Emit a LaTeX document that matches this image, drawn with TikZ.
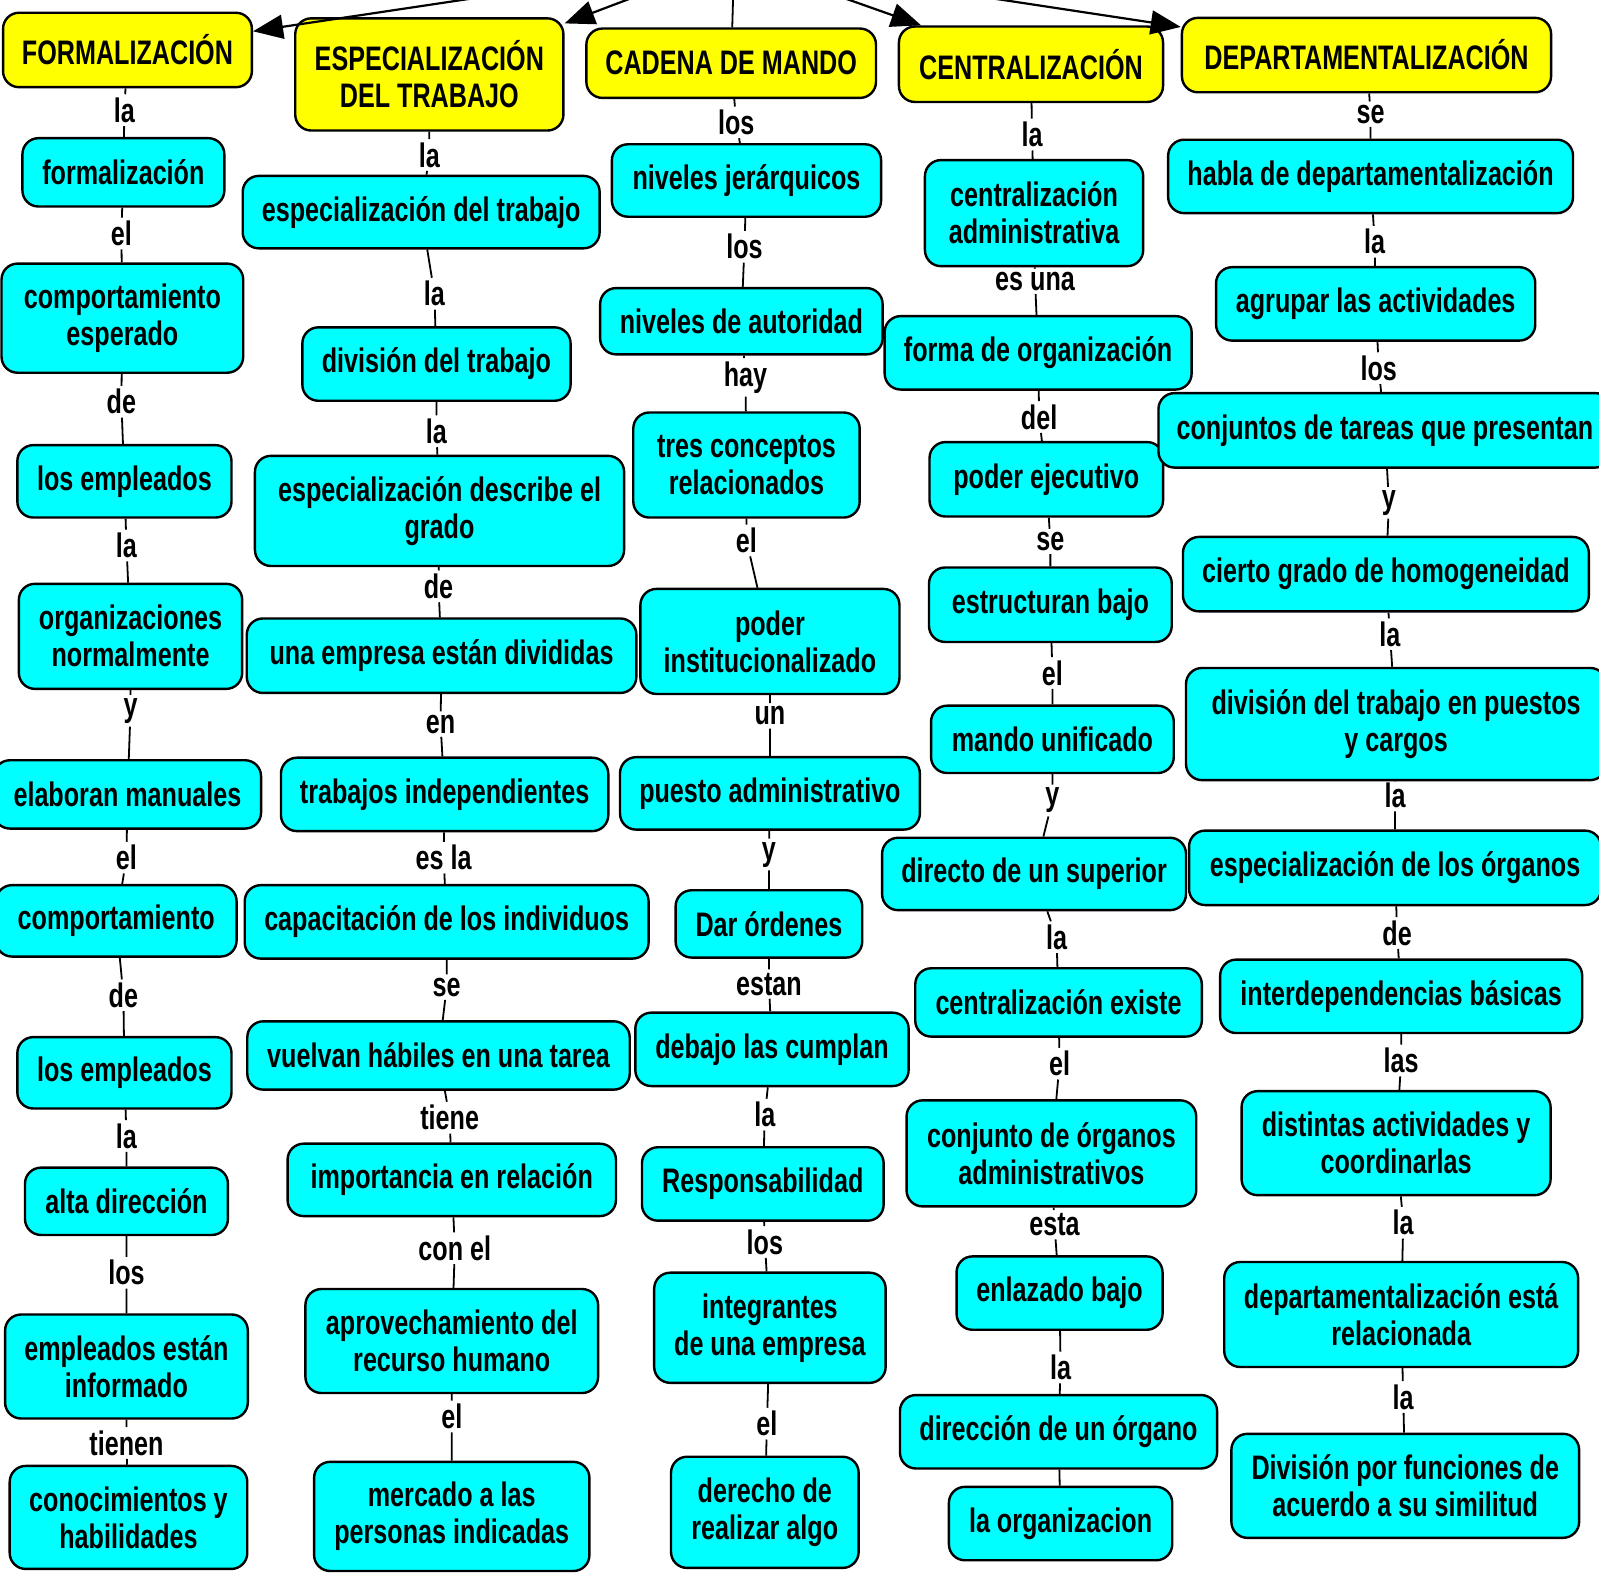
\documentclass[tikz,border=0pt]{standalone}
\usepackage{fontspec}
\setmainfont{Liberation Sans}[FakeStretch=0.74]
\usetikzlibrary{arrows.meta}
\definecolor{mapcyan}{RGB}{0,255,255}
\definecolor{mapyellow}{RGB}{255,255,0}
\tikzset{boxsize/.style 2 args={minimum width=#1*0.51pt, minimum height=#2*0.51pt}}

\begin{document}
\begin{tikzpicture}[
    x=0.51pt, y=-0.51pt,
    every node/.style={font=\fontsize{17}{18.5}\selectfont\bfseries},
    concept/.style={draw, line width=1.2pt, rounded corners=8pt, fill=mapcyan, align=center, inner sep=2pt},
    topic/.style={concept, fill=mapyellow},
    linkword/.style={inner sep=1.5pt},
    link/.style={line width=0.9pt},
    headlink/.style={link, line width=1.1pt, -{Triangle[length=15pt, width=12pt]}}
]
\useasboundingbox (0,0) rectangle (1568,1543);

\coordinate (root) at (720,-40);

% FORMALIZACION
\node[topic, boxsize={244}{73}] (form) at (125,49) {FORMALIZACIÓN};
\node[concept, boxsize={198}{67}] (form1) at (121,169) {formalización};
\node[concept, boxsize={237}{107}] (form2) at (120,312) {comportamiento\\esperado};
\node[concept, boxsize={210}{71}] (form3) at (122,472) {los empleados};
\node[concept, boxsize={219}{103}] (form4) at (128,624) {organizaciones\\normalmente};
\node[concept, boxsize={262}{67}] (form5) at (125,779) {elaboran manuales};
\node[concept, boxsize={236}{70}] (form6) at (114,903) {comportamiento};
\node[concept, boxsize={210}{70}] (form7) at (122,1052) {los empleados};
\node[concept, boxsize={199}{66}] (form8) at (124,1178) {alta dirección};
\node[concept, boxsize={238}{102}] (form9) at (124,1340) {empleados están\\informado};
\node[concept, boxsize={233}{101}] (form10) at (126,1488) {conocimientos y\\habilidades};
\node[linkword] (form-l1) at (122,108) {la};
\node[linkword] (form-l2) at (119,229) {el};
\node[linkword] (form-l3) at (119,394) {de};
\node[linkword] (form-l4) at (124,535) {la};
\node[linkword] (form-l5) at (128,697) {y};
\node[linkword] (form-l6) at (124,841) {el};
\node[linkword] (form-l7) at (121,976) {de};
\node[linkword] (form-l8) at (124,1114) {la};
\node[linkword] (form-l9) at (124,1248) {los};
\node[linkword] (form-l10) at (124,1415) {tienen};

% ESPECIALIZACION DEL TRABAJO
\node[topic, boxsize={263}{110}] (espec) at (421,73) {ESPECIALIZACIÓN\\DEL TRABAJO};
\node[concept, boxsize={350}{71}] (espec1) at (413,208) {especialización del trabajo};
\node[concept, boxsize={263}{72}] (espec2) at (428,357) {división del trabajo};
\node[concept, boxsize={362}{108}] (espec3) at (431,501) {especialización describe el\\grado};
\node[concept, boxsize={382}{73}] (espec4) at (433,643) {una empresa están divididas};
\node[concept, boxsize={321}{72}] (espec5) at (436,779) {trabajos independientes};
\node[concept, boxsize={396}{72}] (espec6) at (438,904) {capacitación de los individuos};
\node[concept, boxsize={375}{67}] (espec7) at (430,1035) {vuelvan hábiles en una tarea};
\node[concept, boxsize={322}{71}] (espec8) at (443,1157) {importancia en relación};
\node[concept, boxsize={287}{102}] (espec9) at (443,1315) {aprovechamiento del\\recurso humano};
\node[concept, boxsize={270}{107}] (espec10) at (443,1487) {mercado a las\\personas indicadas};
\node[linkword] (espec-l1) at (421,152) {la};
\node[linkword] (espec-l2) at (426,288) {la};
\node[linkword] (espec-l3) at (428,423) {la};
\node[linkword] (espec-l4) at (430,575) {de};
\node[linkword] (espec-l5) at (432,710) {en};
\node[linkword] (espec-l6) at (435,841) {es la};
\node[linkword] (espec-l7) at (438,968) {se};
\node[linkword] (espec-l8) at (441,1096) {tiene};
\node[linkword] (espec-l9) at (446,1224) {con el};
\node[linkword] (espec-l10) at (443,1389) {el};

% CADENA DE MANDO
\node[topic, boxsize={284}{68}] (cadena) at (717,62) {CADENA DE MANDO};
\node[concept, boxsize={264}{71}] (cadena1) at (732,177) {niveles jerárquicos};
\node[concept, boxsize={277}{65}] (cadena2) at (727,315) {niveles de autoridad};
\node[concept, boxsize={222}{103}] (cadena3) at (732,456) {tres conceptos\\relacionados};
\node[concept, boxsize={254}{103}] (cadena4) at (755,629) {poder\\institucionalizado};
\node[concept, boxsize={294}{71}] (cadena5) at (755,778) {puesto administrativo};
\node[concept, boxsize={183}{66}] (cadena6) at (754,906) {Dar órdenes};
\node[concept, boxsize={268}{72}] (cadena7) at (757,1029) {debajo las cumplan};
\node[concept, boxsize={237}{72}] (cadena8) at (748,1161) {Responsabilidad};
\node[concept, boxsize={227}{108}] (cadena9) at (755,1302) {integrantes\\de una empresa};
\node[concept, boxsize={184}{109}] (cadena10) at (750,1483) {derecho de\\realizar algo};
\node[linkword] (cadena-l1) at (722,120) {los};
\node[linkword] (cadena-l2) at (730,242) {los};
\node[linkword] (cadena-l3) at (731,370) {hay};
\node[linkword] (cadena-l4) at (732,530) {el};
\node[linkword] (cadena-l5) at (755,702) {un};
\node[linkword] (cadena-l6) at (754,838) {y};
\node[linkword] (cadena-l7) at (754,965) {estan};
\node[linkword] (cadena-l8) at (750,1093) {la};
\node[linkword] (cadena-l9) at (750,1218) {los};
\node[linkword] (cadena-l10) at (752,1396) {el};

% CENTRALIZACION
\node[topic, boxsize={259}{74}] (centr) at (1011,63) {CENTRALIZACIÓN};
\node[concept, boxsize={214}{104}] (centr1) at (1014,209) {centralización\\administrativa};
\node[concept, boxsize={301}{72}] (centr2) at (1018,346) {forma de organización};
\node[concept, boxsize={229}{73}] (centr3) at (1026,470) {poder ejecutivo};
\node[concept, boxsize={238}{73}] (centr4) at (1030,593) {estructuran bajo};
\node[concept, boxsize={238}{66}] (centr5) at (1032,725) {mando unificado};
\node[concept, boxsize={298}{71}] (centr6) at (1014,857) {directo de un superior};
\node[concept, boxsize={281}{67}] (centr7) at (1038,983) {centralización existe};
\node[concept, boxsize={284}{104}] (centr8) at (1031,1131) {conjunto de órganos\\administrativos};
\node[concept, boxsize={202}{72}] (centr9) at (1039,1268) {enlazado bajo};
\node[concept, boxsize={311}{72}] (centr10) at (1038,1404) {dirección de un órgano};
\node[concept, boxsize={219}{72}] (centr11) at (1040,1494) {la organizacion};
\node[linkword] (centr-l1) at (1012,132) {la};
\node[linkword] (centr-l2) at (1015,276) {es una};
\node[linkword] (centr-l3) at (1019,409) {del};
\node[linkword] (centr-l4) at (1030,531) {se};
\node[linkword] (centr-l5) at (1032,660) {el};
\node[linkword] (centr-l6) at (1032,785) {y};
\node[linkword] (centr-l7) at (1036,919) {la};
\node[linkword] (centr-l8) at (1039,1043) {el};
\node[linkword] (centr-l9) at (1034,1201) {esta};
\node[linkword] (centr-l10) at (1040,1341) {la};

% DEPARTAMENTALIZACION
\node[topic, boxsize={362}{73}] (depto) at (1340,54) {DEPARTAMENTALIZACIÓN};
\node[concept, boxsize={397}{72}] (depto1) at (1344,173) {habla de departamentalización};
\node[concept, boxsize={313}{72}] (depto2) at (1349,298) {agrupar las actividades};
\node[concept, boxsize={444}{73}] (depto3) at (1358,422) {conjuntos de tareas que presentan};
\node[concept, boxsize={398}{73}] (depto4) at (1359,563) {cierto grado de homogeneidad};
\node[concept, boxsize={412}{110}] (depto5) at (1369,710) {división del trabajo en puestos\\y cargos};
\node[concept, boxsize={404}{73}] (depto6) at (1368,851) {especialización de los órganos};
\node[concept, boxsize={355}{72}] (depto7) at (1374,977) {interdependencias básicas};
\node[concept, boxsize={303}{102}] (depto8) at (1369,1121) {distintas actividades y\\coordinarlas};
\node[concept, boxsize={347}{103}] (depto9) at (1374,1289) {departamentalización está\\relacionada};
\node[concept, boxsize={341}{102}] (depto10) at (1378,1457) {División por funciones de\\acuerdo a su similitud};
\node[linkword] (depto-l1) at (1344,112) {se};
\node[linkword] (depto-l2) at (1348,237) {la};
\node[linkword] (depto-l3) at (1352,361) {los};
\node[linkword] (depto-l4) at (1362,493) {y};
\node[linkword] (depto-l5) at (1363,622) {la};
\node[linkword] (depto-l6) at (1368,780) {la};
\node[linkword] (depto-l7) at (1370,915) {de};
\node[linkword] (depto-l8) at (1374,1040) {las};
\node[linkword] (depto-l9) at (1376,1199) {la};
\node[linkword] (depto-l10) at (1376,1370) {la};

\draw[headlink] (root) -- (form);
\draw[headlink] (root) -- (espec);
\draw[link] (root) -- (cadena);
\draw[headlink] (root) -- (centr);
\draw[headlink] (root) -- (depto);

\draw[link] (form) -- (form-l1) -- (form1) -- (form-l2) -- (form2) -- (form-l3) -- (form3)
  -- (form-l4) -- (form4) -- (form-l5) -- (form5) -- (form-l6) -- (form6) -- (form-l7) -- (form7)
  -- (form-l8) -- (form8) -- (form-l9) -- (form9) -- (form-l10) -- (form10);
\draw[link] (espec) -- (espec-l1) -- (espec1) -- (espec-l2) -- (espec2) -- (espec-l3) -- (espec3)
  -- (espec-l4) -- (espec4) -- (espec-l5) -- (espec5) -- (espec-l6) -- (espec6) -- (espec-l7) -- (espec7)
  -- (espec-l8) -- (espec8) -- (espec-l9) -- (espec9) -- (espec-l10) -- (espec10);
\draw[link] (cadena) -- (cadena-l1) -- (cadena1) -- (cadena-l2) -- (cadena2) -- (cadena-l3) -- (cadena3)
  -- (cadena-l4) -- (cadena4) -- (cadena-l5) -- (cadena5) -- (cadena-l6) -- (cadena6) -- (cadena-l7) -- (cadena7)
  -- (cadena-l8) -- (cadena8) -- (cadena-l9) -- (cadena9) -- (cadena-l10) -- (cadena10);
\draw[link] (centr) -- (centr-l1) -- (centr1) -- (centr-l2) -- (centr2) -- (centr-l3) -- (centr3)
  -- (centr-l4) -- (centr4) -- (centr-l5) -- (centr5) -- (centr-l6) -- (centr6) -- (centr-l7) -- (centr7)
  -- (centr-l8) -- (centr8) -- (centr-l9) -- (centr9) -- (centr-l10) -- (centr10) -- (centr11);
\draw[link] (depto) -- (depto-l1) -- (depto1) -- (depto-l2) -- (depto2) -- (depto-l3) -- (depto3)
  -- (depto-l4) -- (depto4) -- (depto-l5) -- (depto5) -- (depto-l6) -- (depto6) -- (depto-l7) -- (depto7)
  -- (depto-l8) -- (depto8) -- (depto-l9) -- (depto9) -- (depto-l10) -- (depto10);

\end{tikzpicture}
\end{document}
